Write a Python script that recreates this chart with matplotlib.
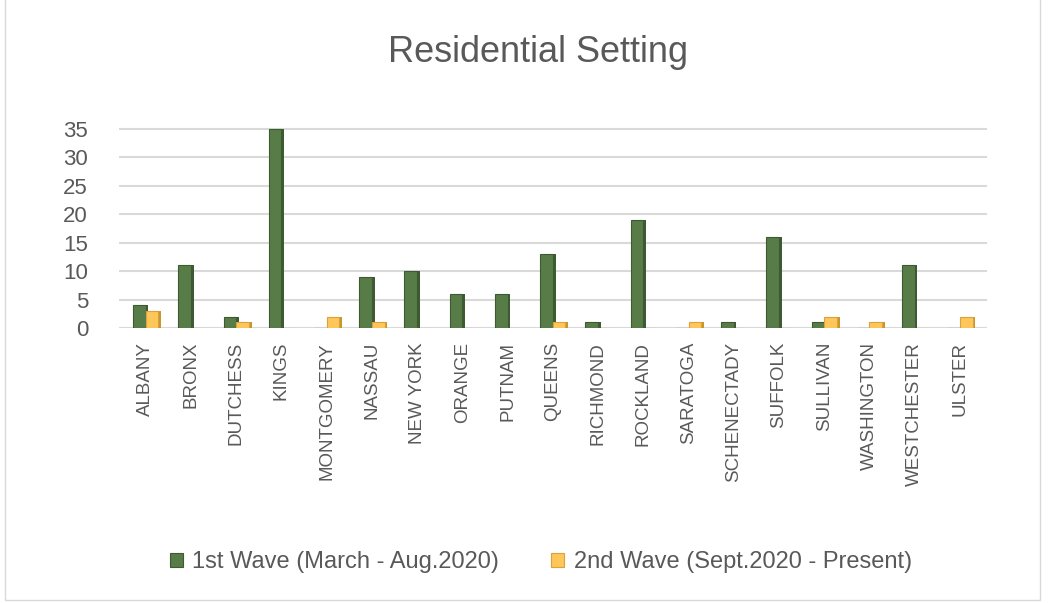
import matplotlib.pyplot as plt
import numpy as np
from matplotlib.patches import Rectangle

counties = ['ALBANY', 'BRONX', 'DUTCHESS', 'KINGS', 'MONTGOMERY', 'NASSAU',
            'NEW YORK', 'ORANGE', 'PUTNAM', 'QUEENS', 'RICHMOND', 'ROCKLAND',
            'SARATOGA', 'SCHENECTADY', 'SUFFOLK', 'SULLIVAN', 'WASHINGTON',
            'WESTCHESTER', 'ULSTER']
wave1 = [4, 11, 2, 35, 0, 9, 10, 6, 6, 13, 1, 19, 0, 1, 16, 1, 0, 11, 0]
wave2 = [3, 0, 1, 0, 2, 1, 0, 0, 0, 1, 0, 0, 1, 0, 0, 2, 1, 0, 2]
yticks = [0, 5, 10, 15, 20, 25, 30, 35]

plt.rcParams['font.family'] = ['Liberation Sans', 'DejaVu Sans']

fig = plt.figure(figsize=(10.5, 6.03), dpi=100)
ax = fig.add_axes([0.113, 0.456, 0.827, 0.335])

x = np.arange(len(counties))
w = 0.28
green = '#587C48'
yellow = '#FFC65A'
ax.bar(x - w / 2, wave1, w, color=green, edgecolor='#3E5A32', linewidth=0.8,
       label='1st Wave (March - Aug.2020)', zorder=3)
ax.bar(x + w / 2, wave2, w, color=yellow, edgecolor='#D9A23E', linewidth=0.8,
       label='2nd Wave (Sept.2020 - Present)', zorder=3)
# darker side faces for the Excel 3D look
ax.bar(x + 0.03, wave1, 0.06, color='#3E5A32', linewidth=0, zorder=2)
ax.bar(x + w + 0.03, wave2, 0.06, color='#C9962E', linewidth=0, zorder=2)

ax.set_xlim(-0.6, len(counties) - 0.4)
ax.set_ylim(0, 35.5)
ax.set_yticks(yticks)
ax.yaxis.grid(True, color='#D9D9D9', linewidth=1.5)
ax.set_axisbelow(True)
for s in ax.spines.values():
    s.set_visible(False)
ax.tick_params(length=0, colors='#595959', labelsize=13.5)
ax.tick_params(axis='y', labelsize=16, pad=22)
ax.set_xticks(x)
ax.set_xticklabels(counties, rotation=90)
ax.tick_params(axis='x', pad=10)

fig.text(0.512, 0.913, 'Residential Setting', ha='center', va='center',
         fontsize=26, color='#595959')

fig.legend(loc='center', bbox_to_anchor=(0.515, 0.068), ncol=2, frameon=False,
           fontsize=17, labelcolor='#595959', handlelength=0.55, handleheight=0.55,
           columnspacing=2.2, handletextpad=0.4)

fig.patches.append(Rectangle((0.005, 0.005), 0.985, 1.1, transform=fig.transFigure,
                             fill=False, edgecolor='#D9D9D9', linewidth=1))

fig.savefig('out.png')
